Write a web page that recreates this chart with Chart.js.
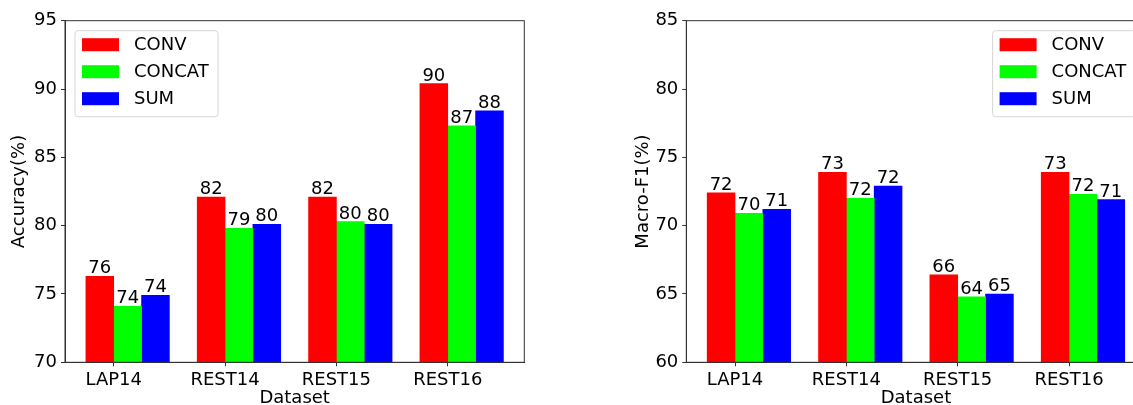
<!DOCTYPE html>
<html>
<head>
  <meta charset="UTF-8">
  <title>Accuracy / Macro-F1</title>
  <script src="https://cdn.jsdelivr.net/npm/chart.js"></script>
  <style>
    html, body { margin: 0; padding: 0; background: #fff; overflow: hidden; width: 1133px; height: 405px; }
    #left { position: absolute; left: 0; top: 0; }
    #right { position: absolute; left: 620px; top: 0; }
  </style>
</head>
<body>
  <canvas id="left" width="566" height="412"></canvas>
  <canvas id="right" width="540" height="412"></canvas>

  <script>
    const datasetNames = ['LAP14', 'REST14', 'REST15', 'REST16'];
    const seriesNames = ['CONV', 'CONCAT', 'SUM'];
    const seriesColors = ['#ff0000', '#00ff00', '#0000ff'];

    const accCONV   = [76.3, 82.1, 82.1, 90.4];
    const accCONCAT = [74.1, 79.8, 80.3, 87.3];
    const accSUM    = [74.9, 80.1, 80.1, 88.4];

    const f1CONV   = [72.4, 73.9, 66.4, 73.9];
    const f1CONCAT = [70.9, 72.0, 64.8, 72.3];
    const f1SUM    = [71.2, 72.9, 65.0, 71.9];

    const accTicks = [70, 75, 80, 85, 90, 95];
    const f1Ticks  = [60, 65, 70, 75, 80, 85];

    const FONT = '"DejaVu Sans", sans-serif';
    const BAR_W = 0.25;   // width of one bar in category units

    // bars sit left of, on, and right of the tick like in the matplotlib plot
    function toPoints(vals, k) {
      return vals.map((v, i) => ({ x: i + (k - 0.5) * BAR_W, y: v }));
    }

    const valueLabels = {
      id: 'valueLabels',
      afterDatasetsDraw(chart) {
        const ctx = chart.ctx;
        ctx.save();
        ctx.font = '18px ' + FONT;
        ctx.fillStyle = '#000';
        ctx.textAlign = 'center';
        ctx.textBaseline = 'alphabetic';
        chart.data.datasets.forEach((ds, di) => {
          chart.getDatasetMeta(di).data.forEach((bar, i) => {
            ctx.fillText(String(Math.floor(ds.data[i].y)), bar.x, bar.y - 3);
          });
        });
        ctx.restore();
      }
    };

    const frameAndLegend = {
      id: 'frameAndLegend',
      afterDraw(chart, args, opts) {
        const ctx = chart.ctx;
        const a = chart.chartArea;
        ctx.save();
        ctx.strokeStyle = '#333';
        ctx.lineWidth = 1;
        ctx.strokeRect(a.left, a.top, a.right - a.left, a.bottom - a.top);

        // legend box
        const w = 143, h = 86;
        const x0 = opts.side === 'right' ? a.right - 10 - w : a.left + 10;
        const y0 = a.top + 10;
        ctx.beginPath();
        ctx.roundRect(x0, y0, w, h, 3);
        ctx.fillStyle = 'rgba(255,255,255,0.8)';
        ctx.fill();
        ctx.strokeStyle = '#d6d6d6';
        ctx.stroke();
        ctx.font = '18px ' + FONT;
        ctx.textBaseline = 'middle';
        ctx.textAlign = 'left';
        chart.data.datasets.forEach((ds, i) => {
          const cy = y0 + 14 + i * 27;
          ctx.fillStyle = ds.backgroundColor;
          ctx.fillRect(x0 + 7, cy - 6.5, 37, 13);
          ctx.fillStyle = '#000';
          ctx.fillText(ds.label, x0 + 59, cy + 1);
        });
        ctx.restore();
      }
    };

    function makeChart(id, series, yTicks, yTitle, cfg) {
      new Chart(document.getElementById(id), {
        type: 'bar',
        data: {
          datasets: series.map((vals, k) => ({
            label: seriesNames[k],
            data: toPoints(vals, k),
            backgroundColor: seriesColors[k],
            borderWidth: 0,
            grouped: false,
            barPercentage: 1,
            categoryPercentage: 1
          }))
        },
        options: {
          responsive: false,
          animation: false,
          events: [],
          layout: { padding: { top: 20.7, right: cfg.padRight, left: 0, bottom: 0 } },
          plugins: {
            legend: { display: false },
            tooltip: { enabled: false },
            frameAndLegend: { side: cfg.legendSide }
          },
          scales: {
            x: {
              type: 'linear',
              offset: false,
              min: -0.4375,
              max: datasetNames.length - 1 + 0.6875,
              afterBuildTicks: s => { s.ticks = datasetNames.map((n, i) => ({ value: i })); },
              afterFit: s => { s.height = 412 - 362.3; },
              grid: { offset: false, drawOnChartArea: false, tickLength: 4, color: '#333' },
              border: { color: '#333' },
              ticks: {
                color: '#000',
                padding: 3,
                maxRotation: 0,
                autoSkip: false,
                font: { family: FONT, size: 18 },
                callback: v => datasetNames[v] ?? ''
              },
              title: {
                display: true,
                text: 'Dataset',
                color: '#000',
                font: { family: FONT, size: 18 },
                padding: { top: 0, bottom: 2.5 }
              }
            },
            y: {
              min: yTicks[0],
              max: yTicks[yTicks.length - 1],
              afterBuildTicks: s => { s.ticks = yTicks.map(v => ({ value: v })); },
              afterFit: s => { s.width = cfg.yWidth; },
              grid: { drawOnChartArea: false, tickLength: 4, color: '#333' },
              border: { color: '#333' },
              ticks: {
                color: '#000',
                padding: 4,
                font: { family: FONT, size: 18 }
              },
              title: {
                display: true,
                text: yTitle,
                color: '#000',
                font: { family: FONT, size: 18 },
                padding: { top: cfg.titlePad, bottom: 0 }
              }
            }
          }
        },
        plugins: [valueLabels, frameAndLegend]
      });
    }

    makeChart('left', [accCONV, accCONCAT, accSUM], accTicks, 'Accuracy(%)',
      { yWidth: 65, padRight: 566 - 524.3, legendSide: 'left', titlePad: 9 });
    makeChart('right', [f1CONV, f1CONCAT, f1SUM], f1Ticks, 'Macro-F1(%)',
      { yWidth: 66.3, padRight: 540 - 525.6, legendSide: 'right', titlePad: 13 });
  </script>
</body>
</html>
